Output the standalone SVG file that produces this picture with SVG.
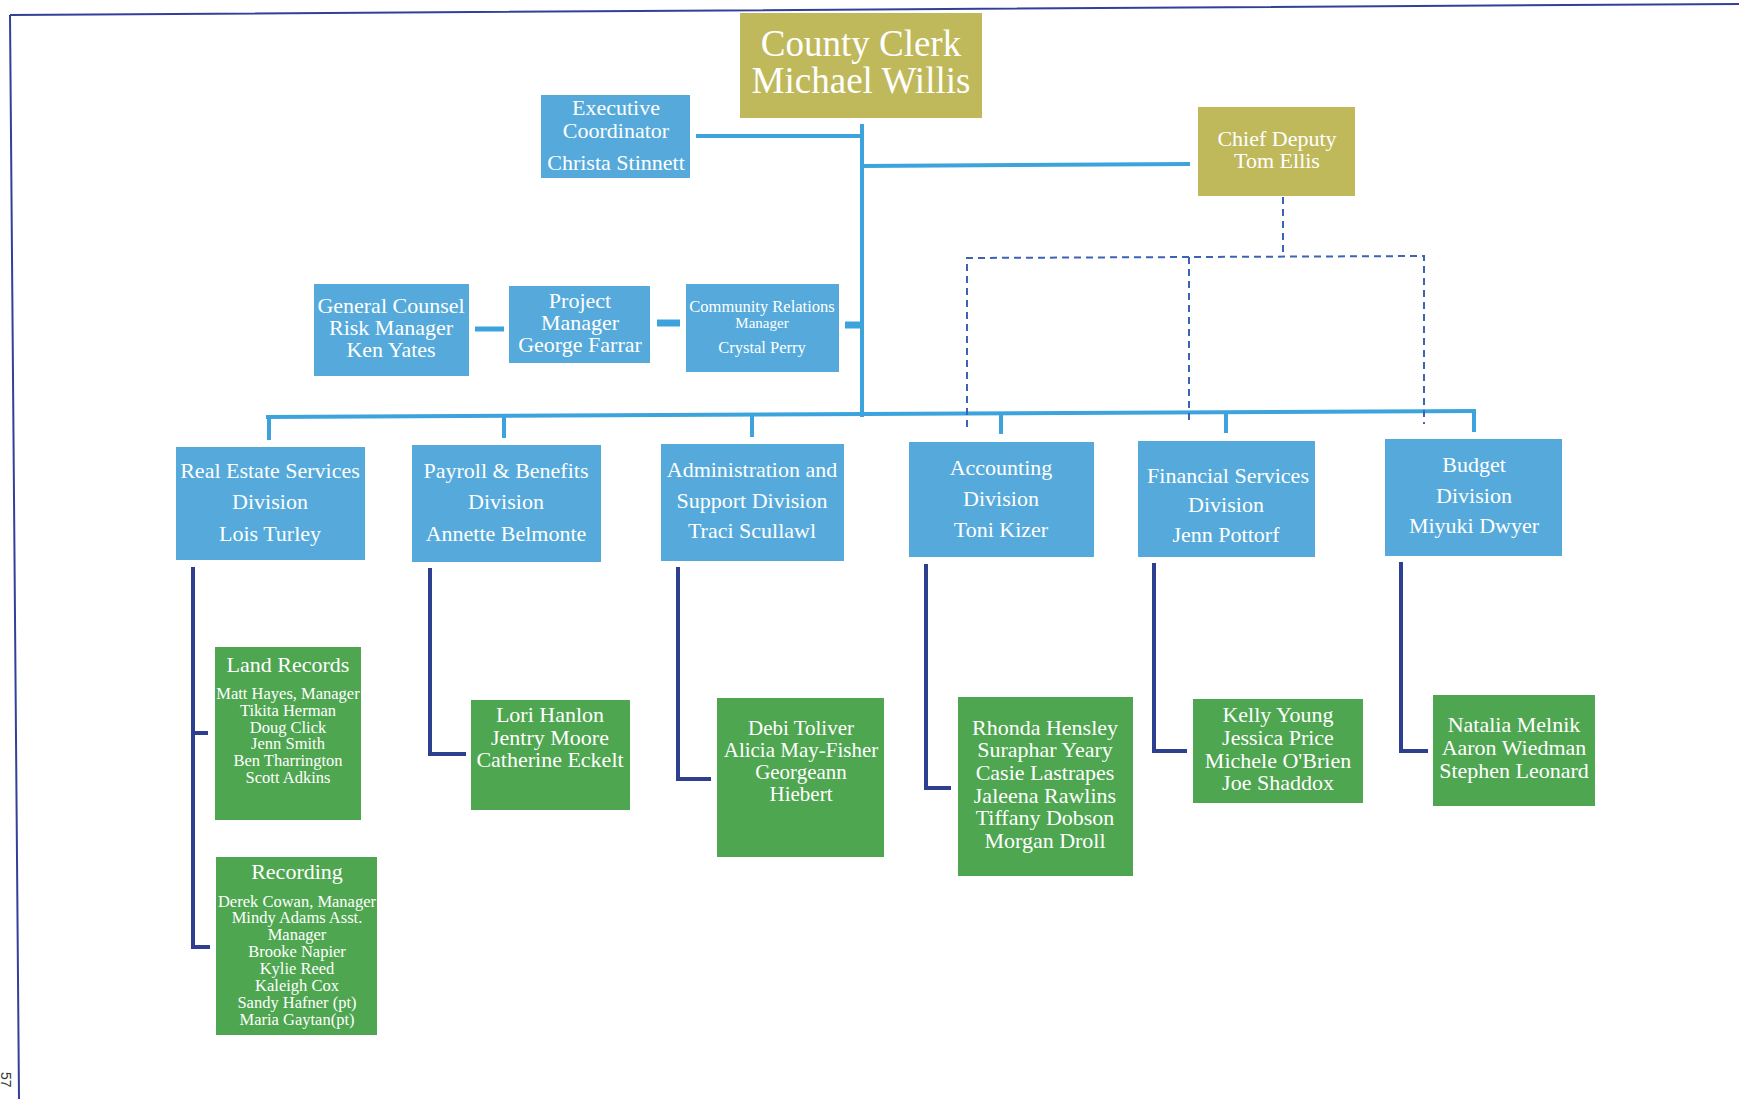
<svg xmlns="http://www.w3.org/2000/svg" width="1739" height="1099" viewBox="0 0 1739 1099">
  <style>
    .olive { fill: #bfb95c; }
    .blue { fill: #55aadb; }
    .green { fill: #4ea650; }
    text { font-family: "Liberation Serif", "Times New Roman", serif; fill: #ffffff; text-anchor: middle; }
    .t37 { font-size: 37px; }
    .t22 { font-size: 22px; }
    .t21 { font-size: 21px; }
    .t16 { font-size: 16.5px; }
    .t15 { font-size: 15px; }
    .link { stroke: #3ca3dc; fill: none; }
    .sub { stroke: #2d3f8e; stroke-width: 4; fill: none; }
    .dash { stroke: #3d63b5; stroke-width: 2; fill: none; stroke-dasharray: 7 5; }
    .frame { stroke: #33409a; stroke-width: 2; fill: none; }
  </style>

  <rect width="1739" height="1099" fill="#ffffff"/>

  <!-- page frame and page number -->
  <g id="page">
    <path class="frame" d="M10,15 L1739,4 M10,15 L19,1099"/>
    <text transform="translate(1,1072) rotate(90)" style="font-family:'Liberation Sans',sans-serif;font-size:14px;fill:#333;text-anchor:start">57</text>
  </g>

  <!-- connectors -->
  <g id="connectors">
    <path class="link" stroke-width="4" d="M862,124 V417"/>
    <path class="link" stroke-width="4" d="M696,136 H862"/>
    <path class="link" stroke-width="4" d="M862,166 L1190,164"/>
    <path class="link" stroke-width="5" d="M475,329 H504"/>
    <path class="link" stroke-width="7" d="M657,323 H680"/>
    <path class="link" stroke-width="7" d="M845,325 H862"/>
    <path class="link" stroke-width="4" d="M266,417 L1476,411"/>
    <path class="link" stroke-width="4" d="M269,417 V440 M504,416 V438 M752,415 V437 M1001,414 V434 M1226,413 V433 M1474,411 V432"/>
    <path class="dash" d="M1283,197 V256 M967,427 V258 L1424,256 V424 M1189,257 V425"/>
    <path class="sub" d="M193,567 V947 H210 M193,733 H208"/>
    <path class="sub" d="M430,568 V754 H466"/>
    <path class="sub" d="M678,567 V779 H711"/>
    <path class="sub" d="M926,564 V788 H951"/>
    <path class="sub" d="M1154,563 V751 H1187"/>
    <path class="sub" d="M1401,562 V751 H1428"/>
  </g>

  <!-- top office -->
  <g id="county-clerk">
    <rect class="olive" x="740" y="13" width="242" height="105"/>
    <text class="t37" x="861" y="56">County Clerk</text>
    <text class="t37" x="861" y="93">Michael Willis</text>
  </g>
  <g id="executive-coordinator">
    <rect class="blue" x="541" y="95" width="149" height="83"/>
    <text class="t22" x="616" y="115">Executive</text>
    <text class="t22" x="616" y="138">Coordinator</text>
    <text class="t22" x="616" y="170">Christa Stinnett</text>
  </g>
  <g id="chief-deputy">
    <rect class="olive" x="1198" y="107" width="157" height="89"/>
    <text class="t22" x="1277" y="146">Chief Deputy</text>
    <text class="t22" x="1277" y="168">Tom Ellis</text>
  </g>

  <!-- staff row -->
  <g id="general-counsel">
    <rect class="blue" x="314" y="284" width="155" height="92"/>
    <text class="t22" x="391" y="313">General Counsel</text>
    <text class="t22" x="391" y="335">Risk Manager</text>
    <text class="t22" x="391" y="357">Ken Yates</text>
  </g>
  <g id="project-manager">
    <rect class="blue" x="509" y="286" width="141" height="77"/>
    <text class="t22" x="580" y="308">Project</text>
    <text class="t22" x="580" y="330">Manager</text>
    <text class="t22" x="580" y="352">George Farrar</text>
  </g>
  <g id="community-relations">
    <rect class="blue" x="686" y="284" width="153" height="88"/>
    <text class="t16" x="762" y="312">Community Relations</text>
    <text class="t15" x="762" y="328">Manager</text>
    <text class="t16" x="762" y="353">Crystal Perry</text>
  </g>

  <!-- divisions -->
  <g id="real-estate">
    <rect class="blue" x="176" y="447" width="189" height="113"/>
    <text class="t22" x="270" y="478">Real Estate Services</text>
    <text class="t22" x="270" y="509">Division</text>
    <text class="t22" x="270" y="541">Lois Turley</text>
  </g>
  <g id="payroll">
    <rect class="blue" x="412" y="445" width="189" height="117"/>
    <text class="t22" x="506" y="478">Payroll &amp; Benefits</text>
    <text class="t22" x="506" y="509">Division</text>
    <text class="t22" x="506" y="541">Annette Belmonte</text>
  </g>
  <g id="administration">
    <rect class="blue" x="661" y="444" width="183" height="117"/>
    <text class="t22" x="752" y="477">Administration and</text>
    <text class="t22" x="752" y="508">Support Division</text>
    <text class="t22" x="752" y="538">Traci Scullawl</text>
  </g>
  <g id="accounting">
    <rect class="blue" x="909" y="442" width="185" height="115"/>
    <text class="t22" x="1001" y="475">Accounting</text>
    <text class="t22" x="1001" y="506">Division</text>
    <text class="t22" x="1001" y="537">Toni Kizer</text>
  </g>
  <g id="financial-services">
    <rect class="blue" x="1138" y="441" width="177" height="116"/>
    <text class="t22" x="1228" y="483">Financial Services</text>
    <text class="t22" x="1226" y="512">Division</text>
    <text class="t22" x="1226" y="542">Jenn Pottorf</text>
  </g>
  <g id="budget">
    <rect class="blue" x="1385" y="439" width="177" height="117"/>
    <text class="t22" x="1474" y="472">Budget</text>
    <text class="t22" x="1474" y="503">Division</text>
    <text class="t22" x="1474" y="533">Miyuki Dwyer</text>
  </g>

  <!-- teams -->
  <g id="land-records">
    <rect class="green" x="215" y="647" width="146" height="173"/>
    <text class="t22" x="288" y="672">Land Records</text>
    <text class="t16" x="288" y="699">Matt Hayes, Manager</text>
    <text class="t16" x="288" y="716">Tikita Herman</text>
    <text class="t16" x="288" y="733">Doug Click</text>
    <text class="t16" x="288" y="749">Jenn Smith</text>
    <text class="t16" x="288" y="766">Ben Tharrington</text>
    <text class="t16" x="288" y="783">Scott Adkins</text>
  </g>
  <g id="recording">
    <rect class="green" x="216" y="857" width="161" height="178"/>
    <text class="t22" x="297" y="879">Recording</text>
    <text class="t16" x="297" y="907">Derek Cowan, Manager</text>
    <text class="t16" x="297" y="923">Mindy Adams Asst.</text>
    <text class="t16" x="297" y="940">Manager</text>
    <text class="t16" x="297" y="957">Brooke Napier</text>
    <text class="t16" x="297" y="974">Kylie Reed</text>
    <text class="t16" x="297" y="991">Kaleigh Cox</text>
    <text class="t16" x="297" y="1008">Sandy Hafner (pt)</text>
    <text class="t16" x="297" y="1025">Maria Gaytan(pt)</text>
  </g>
  <g id="payroll-team">
    <rect class="green" x="471" y="700" width="159" height="110"/>
    <text class="t22" x="550" y="722">Lori Hanlon</text>
    <text class="t22" x="550" y="745">Jentry Moore</text>
    <text class="t22" x="550" y="767">Catherine Eckelt</text>
  </g>
  <g id="administration-team">
    <rect class="green" x="717" y="698" width="167" height="159"/>
    <text class="t21" x="801" y="735">Debi Toliver</text>
    <text class="t21" x="801" y="757">Alicia May-Fisher</text>
    <text class="t21" x="801" y="779">Georgeann</text>
    <text class="t21" x="801" y="801">Hiebert</text>
  </g>
  <g id="accounting-team">
    <rect class="green" x="958" y="697" width="175" height="179"/>
    <text class="t22" x="1045" y="735">Rhonda Hensley</text>
    <text class="t22" x="1045" y="757">Suraphar Yeary</text>
    <text class="t22" x="1045" y="780">Casie Lastrapes</text>
    <text class="t22" x="1045" y="803">Jaleena Rawlins</text>
    <text class="t22" x="1045" y="825">Tiffany Dobson</text>
    <text class="t22" x="1045" y="848">Morgan Droll</text>
  </g>
  <g id="financial-team">
    <rect class="green" x="1193" y="699" width="170" height="104"/>
    <text class="t22" x="1278" y="722">Kelly Young</text>
    <text class="t22" x="1278" y="745">Jessica Price</text>
    <text class="t22" x="1278" y="768">Michele O'Brien</text>
    <text class="t22" x="1278" y="790">Joe Shaddox</text>
  </g>
  <g id="budget-team">
    <rect class="green" x="1433" y="695" width="162" height="111"/>
    <text class="t22" x="1514" y="732">Natalia Melnik</text>
    <text class="t22" x="1514" y="755">Aaron Wiedman</text>
    <text class="t22" x="1514" y="778">Stephen Leonard</text>
  </g>
</svg>
